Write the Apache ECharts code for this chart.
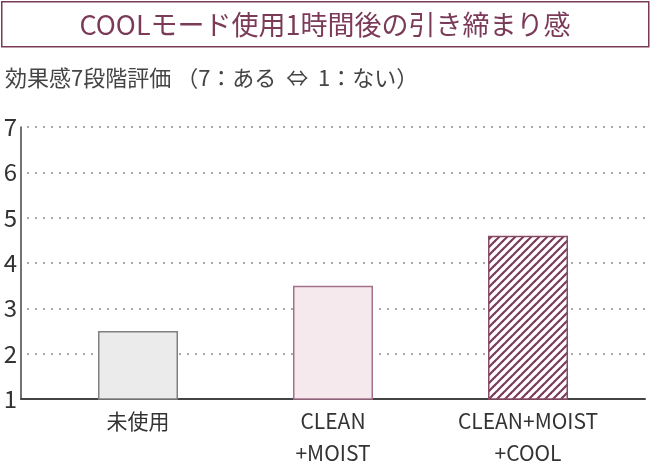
<!DOCTYPE html>
<html><head><meta charset="utf-8">
<script src="https://cdn.jsdelivr.net/npm/echarts@6/dist/echarts.min.js"></script>
<style>html,body{margin:0;padding:0;background:#fff}#c{width:650px;height:469px}</style>
</head><body><div id="c"></div>
<script>
const titleText = 'COOLモード使用1時間後の引き締まり感';
const subtitleText = '効果感7段階評価 （7：ある  ⇔  1：ない）';
const categories = ['未使用', 'CLEAN\n+MOIST', 'CLEAN+MOIST\n+COOL'];
const values = [2.5, 3.5, 4.6];
const yTicks = [1, 2, 3, 4, 5, 6, 7];

const FONT = '"Noto Sans CJK JP", "Noto Sans", sans-serif';
const MAROON = '#7b3b58';

// stripe pattern
const pc = document.createElement('canvas');
pc.width = 8; pc.height = 8;
const g = pc.getContext('2d');
g.fillStyle = '#fff'; g.fillRect(0, 0, 8, 8);
g.strokeStyle = MAROON; g.lineWidth = 2.2;
[0, 8, 16].forEach(c => { g.beginPath(); g.moveTo(c + 2, -2); g.lineTo(-2, c + 2); g.stroke(); });

const styles = [
  { color: '#ebebeb', borderColor: '#808080', borderWidth: 1.5 },
  { color: '#f5e9ee', borderColor: '#a5708a', borderWidth: 1.5 },
  { color: { image: pc, repeat: 'repeat' }, borderColor: '#8a4a66', borderWidth: 1.5 }
];

const chart = echarts.init(document.getElementById('c'), null, { renderer: 'canvas' });
chart.setOption({
  animation: false,
  backgroundColor: '#fff',
  textStyle: { fontFamily: FONT },
  graphic: [{
    type: 'rect', left: 1, top: 1, z: 0,
    shape: { width: 647, height: 45 },
    style: { fill: '#fff', stroke: MAROON, lineWidth: 1.5 }
  }],
  title: [
    { text: titleText, left: 'center', top: 6, textStyle: { fontFamily: FONT, fontSize: 27, fontWeight: 'normal', color: MAROON } },
    { text: subtitleText, left: 0, top: 62, textStyle: { fontFamily: FONT, fontSize: 22, fontWeight: 'normal', color: '#444' } }
  ],
  grid: { left: 21, right: 5, top: 127, bottom: 68, containLabel: false },
  xAxis: {
    type: 'value', min: -0.6, max: 2.6,
    axisLine: { show: true, onZero: false, lineStyle: { color: '#444', width: 2 } },
    axisTick: { show: false },
    splitLine: { show: false },
    axisLabel: {
      customValues: [0, 1, 2],
      formatter: v => categories[Math.round(v)],
      color: '#333', fontSize: 21, lineHeight: 32, margin: 6, fontFamily: FONT
    }
  },
  yAxis: {
    type: 'value', min: yTicks[0], max: yTicks[yTicks.length - 1], interval: 1,
    axisLine: { show: true, onZero: false, lineStyle: { color: '#444', width: 1.5 } },
    axisTick: { show: false },
    axisLabel: { color: '#333', fontSize: 24, margin: 4, fontFamily: FONT },
    splitLine: { show: true, lineStyle: { color: '#aaa', width: 2, type: [2, 6], dashOffset: 2 } }
  },
  series: [{
    type: 'bar',
    barWidth: 80,
    data: values.map((v, i) => ({ value: [i, v], itemStyle: styles[i] }))
  }]
});
</script></body></html>
